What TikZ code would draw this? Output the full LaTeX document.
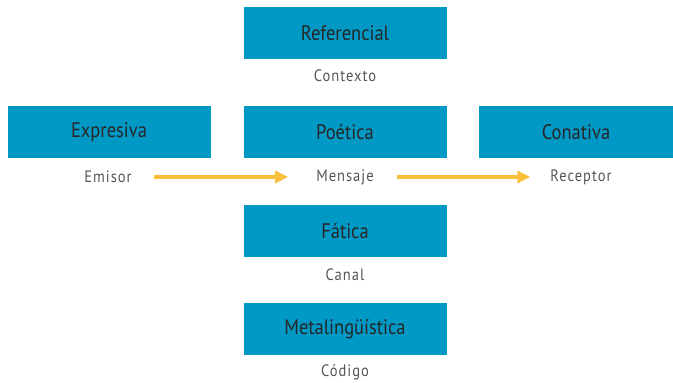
\documentclass[tikz,border=0pt]{standalone}
\usepackage{fontspec}
\setmainfont{PT Sans}[FakeStretch=0.88]
\usetikzlibrary{arrows.meta}
\definecolor{boxblue}{HTML}{0099C6}
\definecolor{arrowyellow}{HTML}{F9BF3B}
\definecolor{labelgrey}{HTML}{555555}
\tikzset{
	funcion/.style = {fill = boxblue, minimum width = 203pt, minimum height = 52pt, inner sep = 0pt, font = \fontsize{21}{24}\selectfont, text = black!85},
	elemento/.style = {font = \fontsize{16.5}{19}\selectfont\addfontfeatures{LetterSpace=6}, text = labelgrey, inner sep = 1pt},
	flujo/.style = {draw = arrowyellow, line width = 3.5pt, -{Triangle[length = 13pt, width = 12pt]}}
}
\begin{document}
\begin{tikzpicture}[x = 1pt, y = -1pt]
	\useasboundingbox (0, 0) rectangle (673, 383);

	\coordinate (p1) at (345, 33);
	\coordinate (p2) at (109, 132);
	\coordinate (p3) at (345, 132);
	\coordinate (p4) at (576, 132);
	\coordinate (p5) at (345, 231);
	\coordinate (p6) at (345, 329);

	\node [funcion] (referencial) at (p1) {Referencial};
	\node [funcion] (expresiva) at (p2) {Expresiva};
	\node [funcion] (poetica) at (p3) {Poética};
	\node [funcion, minimum width = 194pt] (conativa) at (p4) {Conativa};
	\node [funcion] (fatica) at (p5) {Fática};
	\node [funcion] (metalinguistica) at (p6) {Metalingüística};

	\node [elemento] (contexto) at (345, 76) {Contexto};
	\node [elemento] (emisor) at (108, 177) {Emisor};
	\node [elemento] (mensaje) at (345, 177) {Mensaje};
	\node [elemento] (receptor) at (581, 177) {Receptor};
	\node [elemento] (canal) at (345, 275) {Canal};
	\node [elemento] (codigo) at (345, 372) {Código};

	\draw [flujo, shorten <= 21pt, shorten >= 27pt] (emisor) -- (mensaje);
	\draw [flujo, shorten <= 22pt, shorten >= 19pt] (mensaje) -- (receptor);
\end{tikzpicture}
\end{document}
